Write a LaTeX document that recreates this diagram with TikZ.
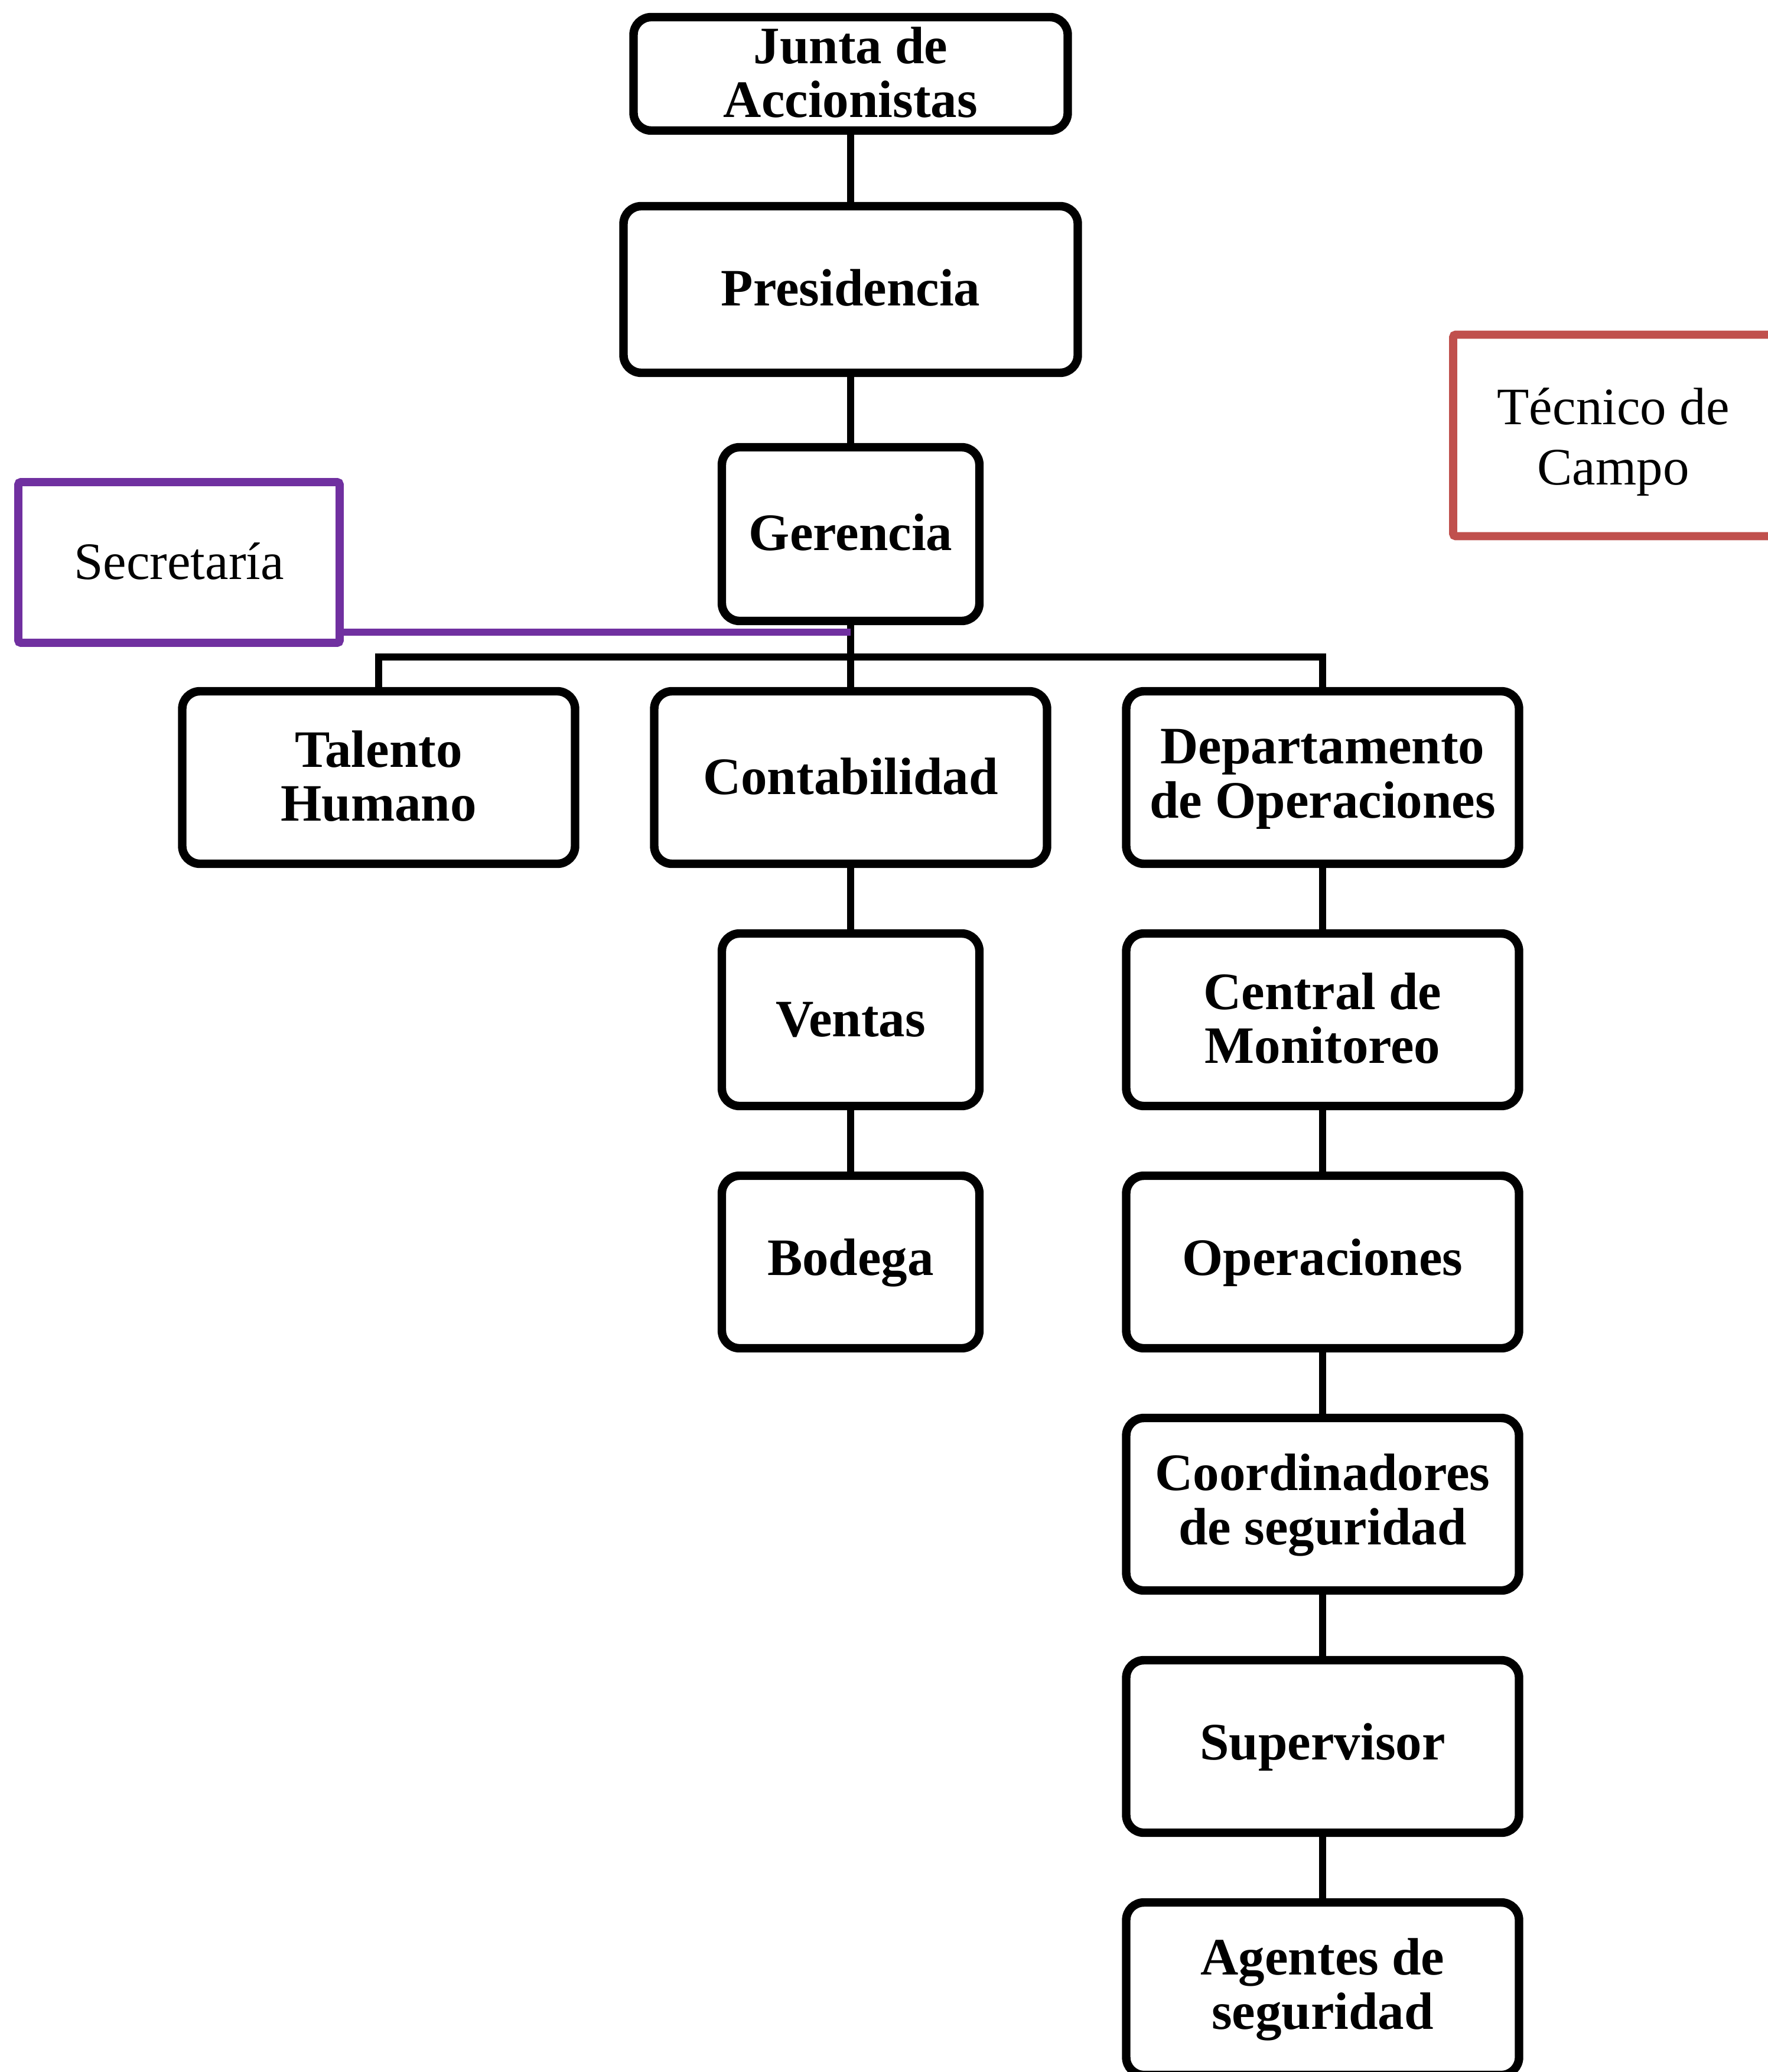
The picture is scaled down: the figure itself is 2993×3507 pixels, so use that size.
\documentclass[tikz,border=0pt]{standalone}
\usepackage{fontspec}
\setmainfont{Liberation Serif}
\newcommand\hsA{\rule{0pt}{16pt}}
\newcommand\dsA{\rule[-2pt]{0pt}{2pt}}
\begin{document}
\begin{tikzpicture}[x=0.25pt,y=-0.25pt,
  org/.style={draw=black,line width=3.6pt,rounded corners=7.5pt,fill=white,
    align=center,inner sep=0pt,font=\fontsize{22.25}{22.9}\selectfont\bfseries},
  side/.style={draw,line width=3.4pt,rounded corners=1pt,fill=white,
    align=center,inner sep=0pt,font=\fontsize{22.25}{25.6}\selectfont},
  conn/.style={draw=black,line width=3.1pt,line join=miter},
  wide/.style={minimum width=665*0.25pt,minimum height=292*0.25pt},
  narrow/.style={minimum width=436*0.25pt,minimum height=292*0.25pt}]
\definecolor{purp}{HTML}{7030A0}
\definecolor{redb}{HTML}{C0504D}
\useasboundingbox (0,0) rectangle (2993,3507);
\fill[white] (0,0) rectangle (2993,3507);

\coordinate (bus) at (1440,1112);
\coordinate (pj) at (1440,1070);

\node[org,minimum width=735*0.25pt,minimum height=192*0.25pt] (junta) at (1440,125) {\hsA Junta de\\Accionistas\dsA};
\node[org,minimum width=769*0.25pt,minimum height=282*0.25pt] (pres) at (1440,490) {\hsA Presidencia\dsA};
\node[org,minimum width=436*0.25pt,minimum height=294*0.25pt] (ger) at (1440,904) {\hsA Gerencia\dsA};
\node[side,draw=purp,minimum width=544*0.25pt,minimum height=272*0.25pt] (sec) at (303,952) {\rule{0pt}{16.4pt}Secretaría\rule[-2pt]{0pt}{2pt}};
\node[side,draw=redb,minimum width=542*0.25pt,minimum height=341*0.25pt] (tec) at (2731,737) {\rule{0pt}{21pt}Técnico de\\Campo\rule[-1.8pt]{0pt}{1.8pt}};

\node[org,wide] (tal) at (641,1316) {\hsA Talento\\Humano\dsA};
\node[org,wide] (cont) at (1440,1316) {\hsA Contabilidad\dsA};
\node[org,wide] (dep) at (2239,1316) {\hsA Departamento\\de Operaciones\dsA};

\node[org,narrow] (ven) at (1440,1726) {\hsA Ventas\dsA};
\node[org,narrow] (bod) at (1440,2136) {\hsA Bodega\dsA};

\node[org,wide] (cen) at (2239,1726) {\hsA Central de\\Monitoreo\dsA};
\node[org,wide] (ope) at (2239,2136) {\hsA Operaciones\dsA};
\node[org,wide] (coo) at (2239,2546) {\hsA Coordinadores\\de seguridad\dsA};
\node[org,wide] (sup) at (2239,2956) {\hsA Supervisor\dsA};
\node[org,wide] (age) at (2239,3366) {\hsA Agentes de\\seguridad\dsA};

\draw[conn] (junta.south) -- (pres.north);
\draw[conn] (pres.south) -- (ger.north);
\draw[conn] (ger.south) -- (cont.north);
\draw[conn] (tal.north) |- (bus) -| (dep.north);
\draw[conn] (cont.south) -- (ven.north);
\draw[conn] (ven.south) -- (bod.north);
\draw[conn] (dep.south) -- (cen.north);
\draw[conn] (cen.south) -- (ope.north);
\draw[conn] (ope.south) -- (coo.north);
\draw[conn] (coo.south) -- (sup.north);
\draw[conn] (sup.south) -- (age.north);
\draw[draw=purp,line width=3.2pt] (pj -| sec.east) -- (pj);
\end{tikzpicture}
\end{document}
